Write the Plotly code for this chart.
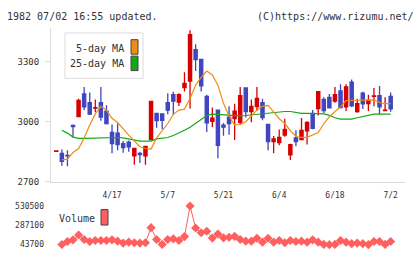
import plotly.graph_objects as go

W, H = 420, 259

# ---- data ----
day_index = list(range(61))
opens = [2853, 2843, 2832, 2982, 3027, 3140, 3096, 3069, 3096, 3054,
         2947, 2944, 2891, 2899, 2830, 2843, 2830, 2911, 3043, 3040,
         3096, 3136, 3099, 3171, 3204, 3361, 3313, 3127, 3003, 3059,
         2984, 3024, 3016, 2998, 3170, 3051, 3077, 3096, 2987, 2902,
         2897, 2934, 2835, 2920, 2911, 2955, 3043, 3067, 3112, 3123,
         3104, 3155, 3075, 3199, 3051, 3144, 3091, 3128, 3131, 3057, 3127]
highs = [2855, 2862, 2858, 2987, 3116, 3175, 3147, 3112, 3175, 3083,
         2987, 2992, 2904, 2907, 2867, 2851, 2878, 3103, 3046, 3040,
         3143, 3151, 3143, 3248, 3459, 3388, 3313, 3136, 3072, 3059,
         2995, 3078, 3091, 3175, 3170, 3112, 3175, 3116, 2987, 2929,
         2962, 3016, 2891, 2958, 3019, 3003, 3059, 3151, 3123, 3140,
         3175, 3188, 3188, 3212, 3116, 3151, 3136, 3170, 3180, 3123, 3147]
lows = [2853, 2781, 2778, 2923, 3027, 3059, 3035, 3048, 3006, 2987,
        2843, 2858, 2846, 2851, 2786, 2794, 2786, 2911, 2971, 2963,
        3038, 3035, 3080, 3152, 3067, 3255, 3152, 2950, 2974, 2818,
        2931, 2936, 2910, 2984, 3022, 2998, 3054, 3008, 2858, 2843,
        2883, 2926, 2810, 2878, 2911, 2887, 2963, 3032, 3043, 3068,
        3096, 3067, 3054, 3075, 3046, 3064, 3054, 3078, 3038, 3057, 3051]
closes = [2855, 2803, 2830, 2977, 3107, 3075, 3039, 3071, 3024, 2992,
          2891, 2887, 2871, 2875, 2867, 2836, 2878, 3103, 3006, 3008,
          3059, 3104, 3136, 3193, 3436, 3311, 3180, 2995, 3019, 2883,
          2974, 2992, 3054, 3131, 3051, 3078, 3117, 3022, 2902, 2915,
          2923, 2963, 2886, 2902, 2958, 2997, 2968, 3151, 3056, 3070,
          3136, 3072, 3175, 3080, 3091, 3090, 3107, 3130, 3075, 3059, 3065]
ma5 = [None, 2810, 2814, 2847, 2867, 2920, 2985, 3040, 3078, 3059,
       3018, 2997, 2963, 2934, 2905, 2876, 2867, 2864, 2920, 2956,
       2992, 3038, 3059, 3064, 3117, 3184, 3223, 3254, 3235, 3184,
       3093, 3028, 2985, 2987, 3001, 3030, 3059, 3078, 3083, 3050,
       3016, 2992, 2956, 2927, 2923, 2923, 2936, 2947, 2992, 3026,
       3052, 3075, 3107, 3107, 3107, 3107, 3107, 3110, 3098, 3091, 3091]
ma25 = [None, 2958, 2944, 2924, 2918, 2918, 2919, 2920, 2922, 2923,
        2923, 2922, 2920, 2915, 2907, 2904, 2904, 2904, 2915, 2917,
        2922, 2932, 2944, 2958, 2973, 2992, 3013, 3032, 3039, 3037,
        3035, 3033, 3030, 3030, 3032, 3035, 3040, 3043, 3045, 3047,
        3050, 3052, 3052, 3047, 3043, 3043, 3043, 3042, 3040, 3033,
        3021, 3014, 3014, 3014, 3021, 3028, 3035, 3039, 3039, 3038, 3039]
volumes = [None, 45000, 84000, 104000, 165000, 108000, 84000, 96000, 96000, 96000,
           104000, 88000, 63000, 75000, 68000, 63000, 68000, 258000, 108000, 47000,
           108000, 117000, 96000, 145000, 530500, 254000, 193000, 213000, 126000, 178000,
           129000, 136000, 148000, 108000, 88000, 88000, 124000, 75000, 124000, 75000,
           96000, 68000, 96000, 84000, 88000, 75000, 104000, 75000, 47000, 43700,
           47000, 96000, 75000, 56000, 63000, 56000, 44000, 84000, 84000, 47000, 84000]
date_ticks = [10, 20, 30, 40, 50, 60]
date_labels = ["4/17", "5/7", "5/21", "6/4", "6/18", "7/2"]
price_ticks = [2700, 3000, 3300]
vol_ticks = [43700, 287100, 530500]

RED = "#d70000"
BLUE = "#3f46bf"
ORANGE = "#f08c14"
GREEN = "#14a814"
VOLC = "#ff5f5f"
AX = "#dcdcdc"
TXT = "#333333"
FONT = "DejaVu Sans Mono"

def px(x):
    return x / W

def py(y):
    return 1 - y / H

fig = go.Figure()
fig.add_trace(go.Candlestick(
    x=day_index, open=opens, high=highs, low=lows, close=closes,
    increasing=dict(line=dict(color=RED, width=1.3), fillcolor=RED),
    decreasing=dict(line=dict(color=BLUE, width=1.3), fillcolor=BLUE),
    xaxis="x", yaxis="y", showlegend=False, hoverinfo="skip"))
fig.add_trace(go.Scatter(x=day_index, y=ma25, mode="lines",
                         line=dict(color=GREEN, width=1.2, shape="linear"),
                         xaxis="x", yaxis="y", showlegend=False, hoverinfo="skip"))
fig.add_trace(go.Scatter(x=day_index, y=ma5, mode="lines",
                         line=dict(color=ORANGE, width=1.2),
                         xaxis="x", yaxis="y", showlegend=False, hoverinfo="skip"))
fig.add_trace(go.Scatter(x=day_index, y=volumes, mode="lines+markers",
                         line=dict(color=VOLC, width=1),
                         marker=dict(symbol="diamond", size=7, color=VOLC),
                         cliponaxis=False, connectgaps=False,
                         xaxis="x2", yaxis="y2", showlegend=False, hoverinfo="skip"))

xrange = [-0.95, 62.57]
xdom = [px(51), px(405)]

fig.update_layout(
    width=W, height=H,
    margin=dict(l=0, r=0, t=0, b=0),
    paper_bgcolor="white", plot_bgcolor="white",
    font=dict(family=FONT, color=TXT, size=9),
    boxgap=0.18,
    xaxis=dict(domain=xdom, range=xrange, anchor="y",
               showline=True, linecolor=AX, linewidth=1,
               tickvals=date_ticks, ticktext=date_labels, ticks="",
               tickfont=dict(size=8, family=FONT, color=TXT),
               ticklabelstandoff=6,
               showgrid=False, zeroline=False, rangeslider=dict(visible=False)),
    xaxis3=dict(overlaying="x", anchor="y", range=[0, 11], tickvals=list(range(12)),
                ticks="outside", ticklen=4, tickcolor=AX, showticklabels=False,
                showgrid=False, zeroline=False, showline=False),
    xaxis4=dict(overlaying="x", anchor="y", range=[0, 11], tickvals=list(range(12)),
                ticks="inside", ticklen=3, tickcolor=AX, showticklabels=False,
                showgrid=False, zeroline=False, showline=False),
    yaxis=dict(domain=[py(184.3), py(25)], range=[2700, 3469], anchor="x",
               tickvals=price_ticks, ticks="outside", ticklen=5, tickcolor=AX,
               showline=True, linecolor=AX, linewidth=1,
               tickfont=dict(size=9, family=FONT, color=TXT),
               ticklabelstandoff=4,
               showgrid=False, zeroline=False),
    yaxis3=dict(overlaying="y", anchor="x", range=[2700, 3469], tickvals=price_ticks,
                ticks="inside", ticklen=2, tickcolor=AX, showticklabels=False,
                showgrid=False, zeroline=False, showline=False),
    xaxis2=dict(domain=xdom, range=xrange, anchor="y2", visible=False),
    yaxis2=dict(domain=[py(249.3), py(209.3)], range=[43700, 530500], anchor="x2",
                tickvals=vol_ticks, ticktext=[str(v) for v in vol_ticks], ticks="",
                tickfont=dict(size=8, family=FONT, color=TXT),
                ticklabelstandoff=6,
                showline=False, showgrid=False, zeroline=False),
)

shapes = [
    dict(type="rect", xref="paper", yref="paper", x0=px(65), x1=px(143), y0=py(77), y1=py(30),
         line=dict(color=AX, width=1), fillcolor="white"),
    dict(type="rect", xref="paper", yref="paper", x0=px(131), x1=px(138), y0=py(52), y1=py(37),
         line=dict(color="#444444", width=1), fillcolor=ORANGE),
    dict(type="rect", xref="paper", yref="paper", x0=px(131), x1=px(138), y0=py(69), y1=py(54),
         line=dict(color="#444444", width=1), fillcolor=GREEN),
    dict(type="rect", xref="paper", yref="paper", x0=px(101), x1=px(108), y0=py(229), y1=py(213),
         line=dict(color="#444444", width=1), fillcolor=VOLC),
]
fig.update_layout(shapes=shapes)

def ann(text, x, y, xanchor, size=10):
    return dict(text=text, xref="paper", yref="paper", x=px(x), y=py(y),
                xanchor=xanchor, yanchor="middle", showarrow=False,
                font=dict(family=FONT, size=size, color=TXT))

fig.update_layout(annotations=[
    ann("1982 07/02 16:55 updated.", 5, 13, "left"),
    ann("(C)https://www.rizumu.net/", 416, 13, "right"),
    ann("5-day MA", 126, 46, "right"),
    ann("25-day MA", 126, 62, "right"),
    ann("Volume", 57, 222, "left"),
])

fig.write_html("out.html")
